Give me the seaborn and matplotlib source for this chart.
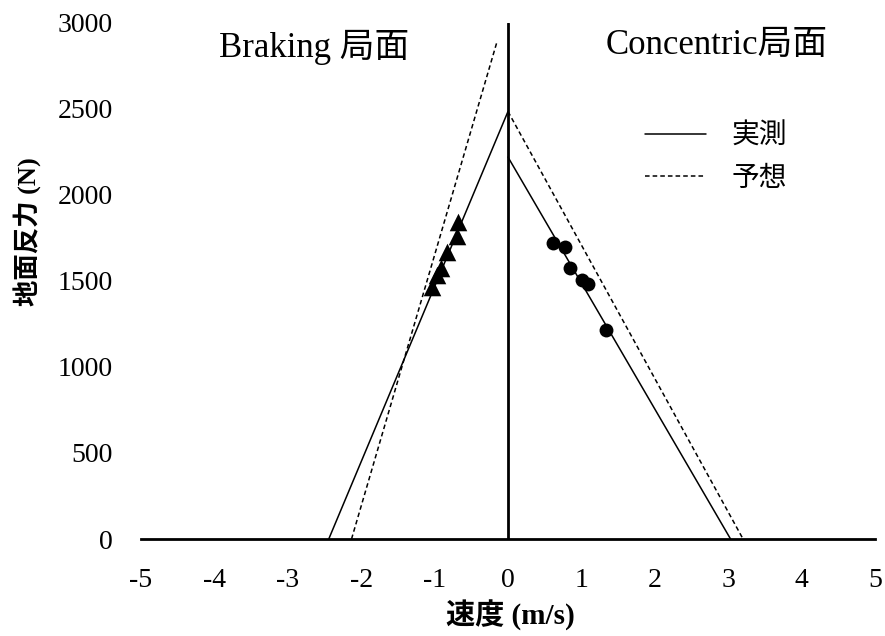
import matplotlib
matplotlib.use("Agg")
import matplotlib.pyplot as plt
from matplotlib.lines import Line2D
import seaborn as sns
import pandas as pd

# Force-velocity relationships: measured (実測) vs predicted (予想)
braking_measured_x = [-2.44, 0.0]
braking_measured_y = [0, 2485]
braking_predicted_x = [-2.13, -0.15]
braking_predicted_y = [0, 2890]
concentric_measured_x = [0.0, 3.03]
concentric_measured_y = [2220, 0]
concentric_predicted_x = [0.0, 3.20]
concentric_predicted_y = [2485, 0]

# Observed trials
braking_v = [-0.68, -0.69, -0.83, -0.91, -0.97, -1.04]
braking_f = [1843, 1762, 1669, 1576, 1535, 1465]
concentric_v = [0.61, 0.78, 0.84, 1.01, 1.09, 1.34]
concentric_f = [1721, 1698, 1576, 1506, 1483, 1215]

x_ticks = [-5, -4, -3, -2, -1, 0, 1, 2, 3, 4, 5]
y_ticks = [0, 500, 1000, 1500, 2000, 2500, 3000]

sns.set_theme(style="white", rc={"text.color": "black", "axes.labelcolor": "black",
                                 "xtick.color": "black", "ytick.color": "black"})
plt.rcParams["font.family"] = ["Liberation Serif", "Noto Sans CJK JP"]

lines = pd.DataFrame({
    "v": braking_measured_x + concentric_measured_x + braking_predicted_x + concentric_predicted_x,
    "F": braking_measured_y + concentric_measured_y + braking_predicted_y + concentric_predicted_y,
    "kind": ["実測"] * 4 + ["予想"] * 4,
    "seg": ["b", "b", "c", "c", "b", "b", "c", "c"],
})

fig = plt.figure(figsize=(8.85, 6.36), dpi=100)
ax = fig.add_axes([0.159, 0.1525, 0.83, 0.8115])

sns.lineplot(data=lines, x="v", y="F", style="kind", units="seg", estimator=None,
             color="black", linewidth=1.1, sort=False,
             dashes={"実測": "", "予想": (3, 2)}, ax=ax, legend=False)

sns.scatterplot(x=braking_v, y=braking_f, marker="^", s=160, color="black",
                edgecolor="black", linewidth=0, ax=ax, zorder=4)
sns.scatterplot(x=concentric_v, y=concentric_f, marker="o", s=100, color="black",
                edgecolor="black", linewidth=0, ax=ax, zorder=4)

ax.set_xlim(-5, 5)
ax.set_ylim(0, 3000)
ax.set_xticks(x_ticks)
ax.set_yticks(y_ticks)
ax.set_xticklabels([str(t) for t in x_ticks], fontsize=20)
ax.set_yticklabels([str(t) for t in y_ticks], fontsize=20)
ax.tick_params(axis="x", length=0, pad=21)
ax.tick_params(axis="y", length=0, pad=20)

for side in ["left", "right", "top"]:
    ax.spines[side].set_visible(False)
ax.spines["bottom"].set_color("black")
ax.spines["bottom"].set_linewidth(2)
ax.axvline(0, color="black", linewidth=2, zorder=3)

ax.set_xlabel("速度 (m/s)", fontsize=21, fontweight="bold")
ax.set_ylabel("地面反力 (N)", fontsize=19, fontweight="bold")
ax.xaxis.set_label_coords(0.503, -0.117)
ax.yaxis.set_label_coords(-0.135, 0.595)

ax.text(-2.64, 2860, "Braking 局面", fontsize=25, ha="center", va="center")
ax.text(2.84, 2870, "Concentric局面", fontsize=25, ha="center", va="center")

handles = [Line2D([], [], color="black", linewidth=1.1),
           Line2D([], [], color="black", linewidth=1.1, dashes=(3, 2))]
ax.legend(handles, ["実測", "予想"], loc="upper left", bbox_to_anchor=(0.653, 0.859),
          frameon=False, handlelength=2.2, handletextpad=0.9,
          labelspacing=0.45, prop={"family": ["Noto Sans CJK JP"], "size": 20})

fig.savefig("out.png", dpi=100)
